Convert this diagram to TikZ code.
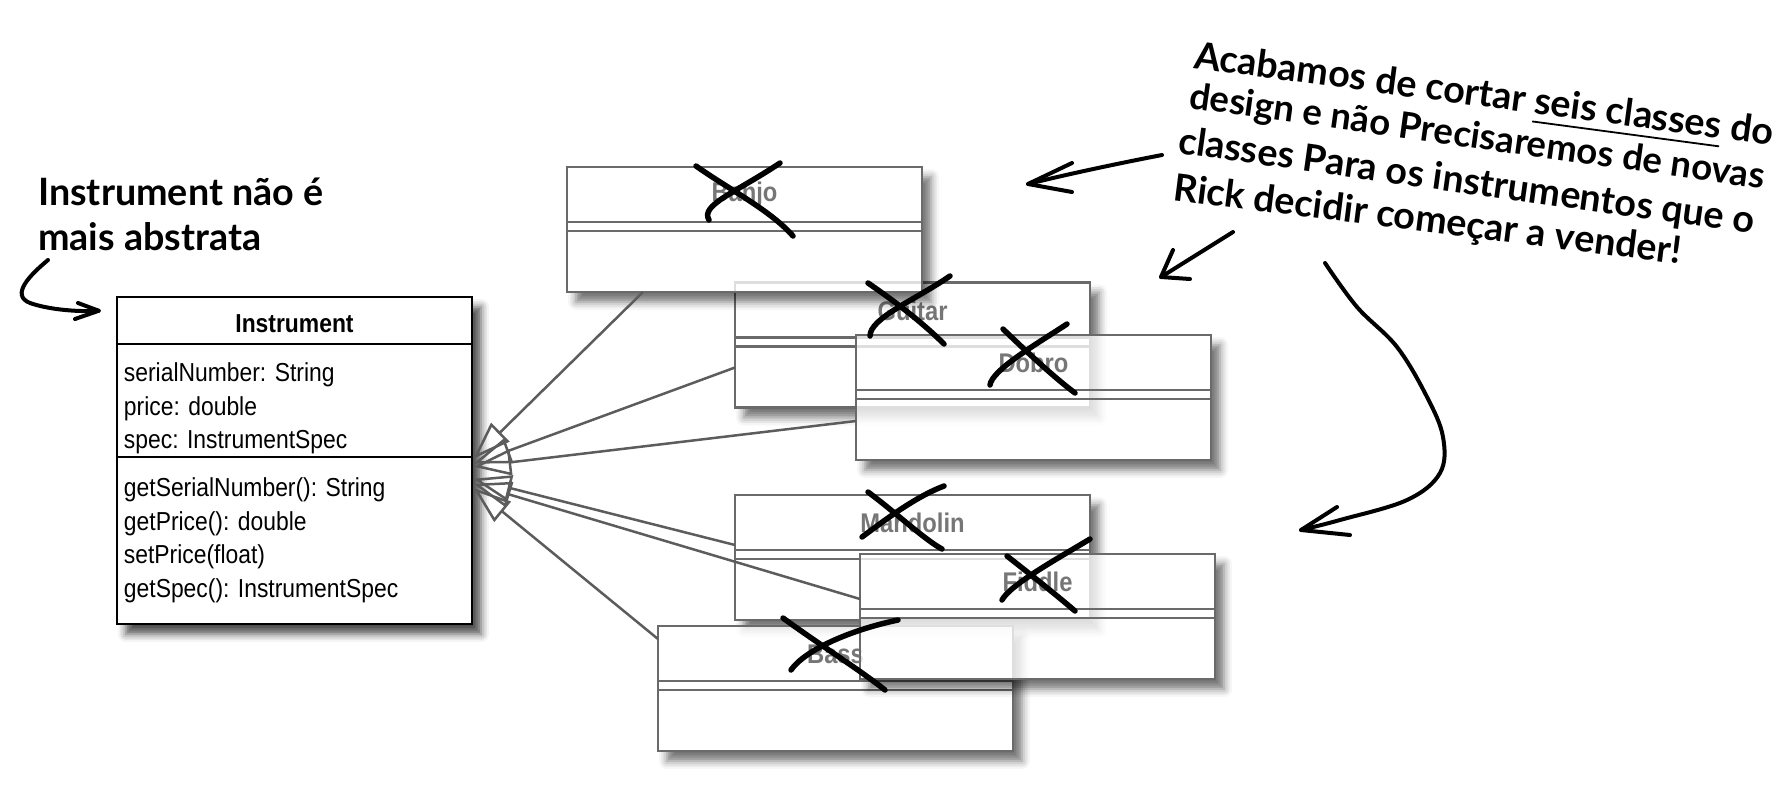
\documentclass[tikz,border=0pt]{standalone}
\usepackage{fontspec}
\setmainfont{Liberation Sans}
\newfontfamily\umlfont[FakeStretch=0.88]{Liberation Sans}
\newfontfamily\handfont{Lato}
\usepackage{tikz}
\usetikzlibrary{arrows.meta,positioning,calc,shadows.blur}

\definecolor{boxgray}{HTML}{6A6A6A}
\definecolor{labelgray}{HTML}{767676}
\definecolor{linkgray}{HTML}{5C5C5C}

% underline for the hand note
\newcommand{\handul}[1]{\setbox0\hbox{#1}\rlap{\rule[-9pt]{\wd0}{1.8pt}}\box0\relax}

\tikzset{
  boxshadow/.style={blur shadow={shadow xshift=9pt, shadow yshift=-10pt, shadow blur radius=8pt, shadow opacity=70}},
  classbox/.style={draw=black, line width=2.5pt, fill=white, minimum width=355pt, minimum height=327pt, inner sep=0pt, boxshadow},
  gonebox/.style={fill=white, minimum width=355pt, minimum height=125pt, inner sep=0pt, outer sep=0pt, boxshadow},
  gonesep/.style={draw=boxgray, line width=2.5pt},
  gonelabel/.style={font=\umlfont\fontsize{27}{30}\selectfont\bfseries, text=labelgray, inner sep=0pt},
  member/.style={font=\umlfont\fontsize{26}{30}\selectfont, anchor=base west, inner sep=0pt},
  extends/.style={draw=linkgray, line width=2.5pt, -{Triangle[open,length=38pt,width=26pt]}},
  strike/.style={line width=5.5pt, line cap=round, line join=round},
  hand/.style={font=\handfont\fontsize{37.7}{40}\selectfont\bfseries, anchor=base west, inner sep=0pt},
  handarrow/.style={line width=4pt, line cap=round, line join=round},
}

\begin{document}
\begin{tikzpicture}[x=1pt,y=-1pt]
\useasboundingbox (0,0) rectangle (1784,804);

% the one class that stays
\node[classbox] (inst) at (294.5,460.5) {};
\draw[line width=2.5pt] ($(inst.north west)+(0,48)$) -- ($(inst.north east)+(0,48)$);
\draw[line width=2.5pt] ($(inst.north west)+(0,161)$) -- ($(inst.north east)+(0,161)$);
\node[font=\umlfont\fontsize{26}{30}\selectfont\bfseries, anchor=base, inner sep=0pt] (instName) at ($(inst.north)+(0,37)$) {Instrument};
\foreach \txt [count=\i] in {serialNumber: String, price: double, spec: InstrumentSpec}
  \node[member] (attr\i) at ($(inst.north west)+(8,{86+33.5*(\i-1)})$) {\txt};
\foreach \txt [count=\i] in {getSerialNumber(): String, getPrice(): double, setPrice(float), getSpec(): InstrumentSpec}
  \node[member] (op\i) at ($(inst.north west)+(8,{201+33.5*(\i-1)})$) {\txt};

% the subclasses that were cut
\foreach \nm/\lab/\cx/\cy in {guitar/Guitar/912.5/345, banjo/Banjo/744.5/229.5, dobro/Dobro/1033.5/397.5,
    mandolin/Mandolin/912.5/557.5, bass/Bass/835.5/688.5, fiddle/Fiddle/1037.5/616.5}{
  \begin{scope}[transparency group, opacity=0.78]
    \node[gonebox] (\nm) at (\cx,\cy) {};
  \end{scope}
  \draw[gonesep] (\nm.north west) rectangle (\nm.south east);
  \draw[gonesep] ($(\nm.north west)+(0,55)$) -- ($(\nm.north east)+(0,55)$);
  \draw[gonesep] ($(\nm.north west)+(0,64)$) -- ($(\nm.north east)+(0,64)$);
  \node[gonelabel] (\nm-name) at ($(\nm.north)+(0,28)$) {\lab};
}

% generalization links
\coordinate (tipBanjo) at ($(inst.north east)+(0,163)$);
\coordinate (tipGuitar) at ($(inst.north east)+(0,168)$);
\coordinate (tipDobro) at ($(inst.north east)+(0,171)$);
\coordinate (tipMandolin) at ($(inst.north east)+(0,183)$);
\coordinate (tipFiddle) at ($(inst.north east)+(0,188)$);
\coordinate (tipBass) at ($(inst.north east)+(0,192)$);
\draw[extends] ($(banjo.south west)+(76,0)$) -- (tipBanjo);
\draw[extends] ($(guitar.north west)+(0,85)$) -- (tipGuitar);
\draw[extends] ($(dobro.north west)+(0,86)$) -- (tipDobro);
\draw[extends] ($(mandolin.north west)+(0,50)$) -- (tipMandolin);
\draw[extends] ($(fiddle.north west)+(0,45)$) -- (tipFiddle);
\draw[extends] ($(bass.north west)+(0,13)$) -- (tipBass);

% crossed out by hand
\draw[strike] (696,166) .. controls (730,190) and (770,210) .. (793,236);
\draw[strike] (780,163) .. controls (735,193) and (700,205) .. (709,220);
\draw[strike] (868,283) .. controls (900,305) and (925,325) .. (944,344);
\draw[strike] (950,276) .. controls (915,300) and (870,318) .. (870,336);
\draw[strike] (1003,329) .. controls (1030,355) and (1055,378) .. (1075,393);
\draw[strike] (1067,324) .. controls (1035,345) and (992,370) .. (990,385);
\draw[strike] (868,492) .. controls (895,512) and (925,540) .. (942,549);
\draw[strike] (944,486) .. controls (915,497) and (885,520) .. (862,537);
\draw[strike] (1007,556) .. controls (1035,578) and (1060,598) .. (1075,611);
\draw[strike] (1090,539) .. controls (1055,560) and (1010,585) .. (1002,600);
\draw[strike] (783,618) .. controls (820,645) and (860,670) .. (885,690);
\draw[strike] (898,620) .. controls (850,630) and (805,650) .. (791,670);

% notes
\node[hand] (noteLeftA) at (38,205) {Instrument não é};
\node[hand] (noteLeftB) at (38,250) {mais abstrata};
\node[hand, rotate=-7.6] (noteRightA) at (1193,68) {Acabamos de cortar \handul{seis classes} do};
\node[hand, rotate=-8, font=\handfont\fontsize{36.5}{40}\selectfont\bfseries] (noteRightB) at (1188,108) {design e não Precisaremos de novas};
\node[hand, rotate=-8] (noteRightC) at (1177,153) {classes Para os instrumentos que o};
\node[hand, rotate=-7.2] (noteRightD) at (1172,200) {Rick decidir começar a vender!};

\coordinate (leftFrom) at (48,260);
\coordinate (leftTo) at ($(inst.north west)+(-17,15)$);
\draw[handarrow] (leftFrom) .. controls (30,275) and (10,295) .. (30,303) .. controls (50,310) and (80,312) .. (leftTo);
\draw[handarrow] (78,303) -- (leftTo) -- (75,319);

\coordinate (upFrom) at (1162,155);
\coordinate (upTo) at (1028,184);
\draw[handarrow] (upFrom) .. controls (1110,165) and (1060,176) .. (upTo);
\draw[handarrow] (1072,163) -- (upTo) -- (1072,192);

\coordinate (midFrom) at (1233,232);
\coordinate (midTo) at (1161,277);
\draw[handarrow] (midFrom) -- (midTo);
\draw[handarrow] (1173,250) -- (midTo) -- (1190,279);

\coordinate (lowFrom) at (1325,263);
\coordinate (lowTo) at (1301,530);
\draw[handarrow] plot[smooth, tension=0.6] coordinates {(lowFrom) (1357,307) (1397,347) (1427,397) (1443,437) (1440,473) (1407,500) (1340,520) (lowTo)};
\draw[handarrow] (1337,507) -- (lowTo) -- (1350,535);
\end{tikzpicture}
\end{document}
